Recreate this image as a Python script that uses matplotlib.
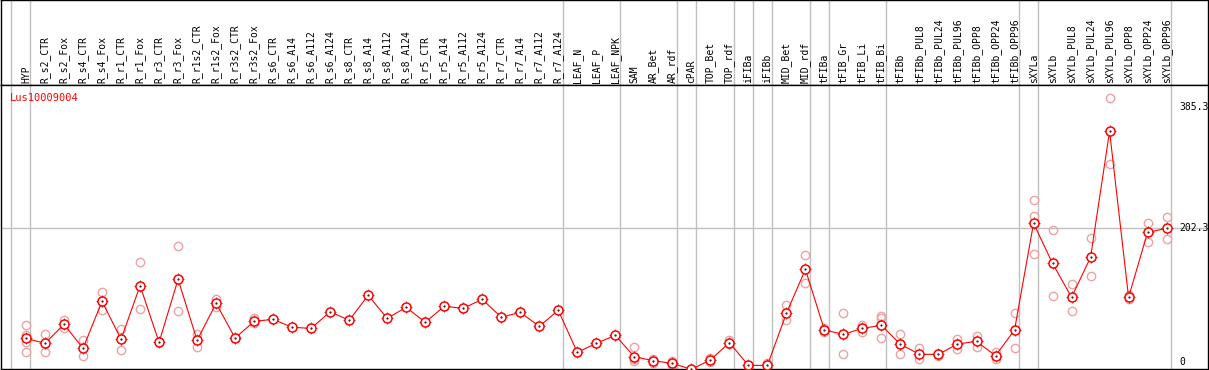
import matplotlib
matplotlib.use("Agg")
import matplotlib.pyplot as plt
from matplotlib.transforms import blended_transform_factory

categories = ["HYP", "R_s2_CTR", "R_s2_Fox", "R_s4_CTR", "R_s4_Fox", "R_r1_CTR", "R_r1_Fox",
              "R_r3_CTR", "R_r3_Fox", "R_r1s2_CTR", "R_r1s2_Fox", "R_r3s2_CTR", "R_r3s2_Fox",
              "R_s6_CTR", "R_s6_A14", "R_s6_A112", "R_s6_A124", "R_s8_CTR", "R_s8_A14",
              "R_s8_A112", "R_s8_A124", "R_r5_CTR", "R_r5_A14", "R_r5_A112", "R_r5_A124",
              "R_r7_CTR", "R_r7_A14", "R_r7_A112", "R_r7_A124", "LEAF_N", "LEAF_P", "LEAF_NPK",
              "SAM", "AR_Bet", "AR_rdf", "cPAR", "TOP_Bet", "TOP_rdf", "iFIBa", "iFIBb",
              "MID_Bet", "MID_rdf", "tFIBa", "tFIB_Gr", "tFIB_Li", "tFIB_Bi", "tFIBb",
              "tFIBb_PUL8", "tFIBb_PUL24", "tFIBb_PUL96", "tFIBb_OPP8", "tFIBb_OPP24",
              "tFIBb_OPP96", "sXYLa", "sXYLb", "sXYLb_PUL8", "sXYLb_PUL24", "sXYLb_PUL96",
              "sXYLb_OPP8", "sXYLb_OPP24", "sXYLb_OPP96"]

means = [36.0, 28.4, 57.2, 20.9, 92.0, 34.5, 115.6, 29.9, 125.2, 32.9, 88.9, 36.4, 61.7,
         64.7, 52.6, 51.1, 76.2, 63.2, 101.0, 66.2, 82.9, 60.2, 84.4, 81.4, 95.0, 67.8,
         75.3, 54.1, 78.3, 14.8, 28.4, 40.5, 8.2, 2.1, -1.8, -10.9, 3.2, 29.4, -4.9, -4.9,
         73.8, 140.3, 48.5, 42.0, 51.1, 55.6, 26.9, 11.8, 11.8, 27.4, 31.4, 9.7, 48.5,
         209.9, 149.4, 98.0, 158.5, 349.0, 98.0, 196.3, 202.3]

replicates = [[56, 41, 30, 15], [42, 15], [64, 51], [33, 10], [106, 79], [50, 19], [151, 80],
              [30], [175, 77], [42, 23], [95, 84], [37, 36], [67, 59],
              [], [], [], [], [], [], [], [], [], [], [], [], [], [], [], [], [], [], [],
              [23, 4, 2], [4, -1], [2, -4.5], [], [6, 0], [33, 27], [], [-1],
              [86, 63], [162, 120], [52, 45], [75, 12], [56, 46], [69, 66, 36], [42, 13],
              [22, 4], [13, 9], [35, 20], [40, 23], [16, 5], [75, 21],
              [245, 221, 163], [200, 100], [118, 77], [187, 131], [399, 299], [101, 96],
              [211, 181], [219, 186]]

group_ends = [-1, 0, 28, 31, 34, 35, 37, 38, 39, 41, 42, 45, 52, 53, 60]
y_ticks = [0, 202.3, 385.3]
title = "Lus10009004"

W, H = 1209, 370
fig = plt.figure(figsize=(W / 100, H / 100), dpi=100)

left_px, right_px = 1, 1208
hdr_top, hdr_bot = 0, 85
plt_bot = 369

ax_h = fig.add_axes([left_px / W, 1 - hdr_bot / H, (right_px - left_px) / W, (hdr_bot - hdr_top) / H])
ax = fig.add_axes([left_px / W, 1 - plt_bot / H, (right_px - left_px) / W, (plt_bot - hdr_bot) / H])

x0_px, dx_px = 26.0, 19.01
xlim = ((left_px - x0_px) / dx_px, (right_px - x0_px) / dx_px)

for a in (ax, ax_h):
    a.set_xlim(*xlim)
    a.set_xticks([])
    a.set_yticks([])
    for s in a.spines.values():
        s.set_color("black")
        s.set_linewidth(1.0)
    for g in group_ends:
        a.axvline(g + 0.23, color="#c0c0c0", lw=1.0, zorder=1)

ax_h.set_ylim(0, 1)
for i, c in enumerate(categories):
    ax_h.text(i, 0.025, c, rotation=90, ha="center", va="bottom",
              family="DejaVu Sans Mono", fontsize=7, color="black")

ax.set_ylim(-10.4, 419.1)
ax.axhline(202.3, color="#c0c0c0", lw=1.0, zorder=1)

xs = list(range(len(categories)))
rx, ry = [], []
for i, reps in enumerate(replicates):
    for v in reps:
        rx.append(i)
        ry.append(v)
ax.plot(rx, ry, linestyle="none", marker="o", markersize=6, markerfacecolor="none",
        markeredgecolor="#eda3a3", markeredgewidth=1.0, zorder=2)

ax.plot(xs, means, color="red", lw=0.8, zorder=3)
ax.plot(xs, means, linestyle="none", marker="+", markersize=8.5, color="#600000",
        markeredgewidth=0.5, zorder=3.5)
ax.plot(xs, means, linestyle="none", marker="o", markersize=6.5, markerfacecolor="white",
        markeredgecolor="red", markeredgewidth=1.1, zorder=4)
ax.plot(xs, means, linestyle="none", marker=".", markersize=1.2, color="#600000", zorder=5)

tr = blended_transform_factory(ax.transAxes, ax.transData)
for v in y_ticks:
    ax.text((1179 - left_px) / (right_px - left_px), v, f"{v:g}", transform=tr,
            ha="left", va="center", family="DejaVu Sans Mono", fontsize=7, color="black")

ax.text((10 - left_px) / (right_px - left_px), 1 - 13 / (plt_bot - hdr_bot), title,
        transform=ax.transAxes, ha="left", va="center", family="DejaVu Sans Mono",
        fontsize=7.5, color="red")

fig.savefig("out.png", dpi=100)
